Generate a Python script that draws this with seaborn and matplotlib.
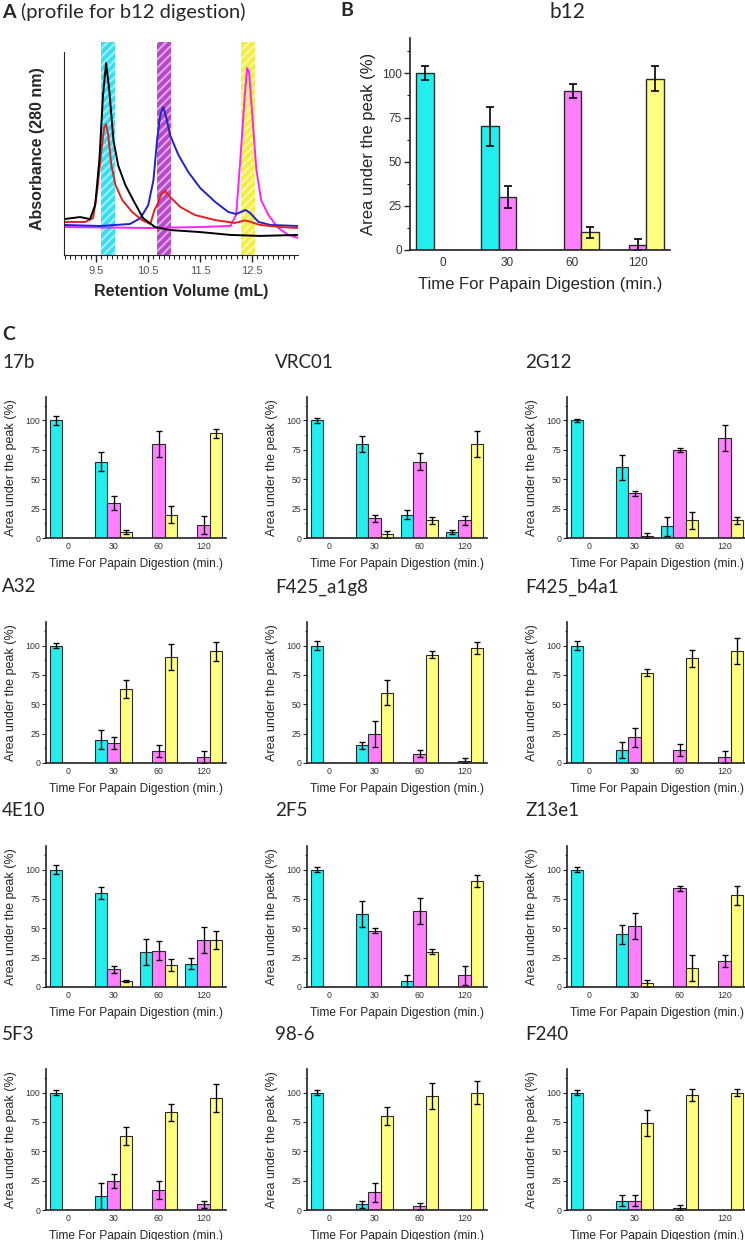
import pandas as pd
import matplotlib
matplotlib.use("Agg")
from matplotlib import pyplot as plt
from matplotlib.ticker import MultipleLocator
import seaborn as sns

# ---- panel A: elution profiles (retention volume mL, absorbance a.u.) ----
black_vol = [8.88, 9.19, 9.38, 9.48, 9.56, 9.63, 9.69, 9.75, 9.83, 9.92, 10.06, 10.21, 10.40, 10.63, 10.92, 11.5, 12.08, 12.65, 13.38]
black_abs = [0.177, 0.187, 0.177, 0.246, 0.468, 0.788, 0.946, 0.813, 0.567, 0.443, 0.345, 0.271, 0.182, 0.138, 0.123, 0.113, 0.099, 0.094, 0.099]

red_vol = [8.88, 9.29, 9.44, 9.52, 9.60, 9.65, 9.69, 9.73, 9.79, 9.87, 10.0, 10.19, 10.38, 10.54, 10.62, 10.67, 10.75, 10.83, 10.92, 11.12, 11.40, 11.79, 12.17, 12.35, 12.42, 12.65, 13.04, 13.38]
red_abs = [0.163, 0.163, 0.182, 0.320, 0.517, 0.626, 0.645, 0.591, 0.443, 0.345, 0.271, 0.212, 0.172, 0.153, 0.222, 0.246, 0.300, 0.315, 0.286, 0.236, 0.197, 0.172, 0.158, 0.170, 0.167, 0.148, 0.138, 0.133]

blue_vol = [8.88, 9.58, 10.15, 10.35, 10.5, 10.6, 10.67, 10.73, 10.79, 10.85, 10.92, 11.08, 11.27, 11.5, 11.79, 12.04, 12.19, 12.37, 12.46, 12.62, 12.85, 13.38]
blue_abs = [0.148, 0.143, 0.153, 0.182, 0.246, 0.369, 0.567, 0.690, 0.729, 0.675, 0.591, 0.493, 0.409, 0.330, 0.261, 0.212, 0.202, 0.222, 0.207, 0.163, 0.148, 0.143]

magenta_vol = [8.88, 10.54, 11.5, 12.08, 12.19, 12.27, 12.35, 12.40, 12.44, 12.5, 12.58, 12.67, 12.81, 13.0, 13.19, 13.38]
magenta_abs = [0.138, 0.133, 0.138, 0.143, 0.197, 0.468, 0.764, 0.921, 0.901, 0.690, 0.419, 0.271, 0.197, 0.133, 0.099, 0.084]

band_lo = [9.60, 10.67, 12.29]
band_hi = [9.87, 10.94, 12.56]
band_colors = ['#38DDF0', '#B848C8', '#F2EE48']

# ---- panels B and C: area under the peak (%) ----
times = ['0', '30', '60', '120']
peaks = ['peak 1', 'peak 2', 'peak 3']
bar_colors = ['#22EEEE', '#FF80FF', '#FFFF80']

# rows: peak 1 (cyan), peak 2 (magenta), peak 3 (yellow); columns: times
b12 = [[100, 70, 0, 0], [0, 30, 90, 3], [0, 0, 10, 97]]
b12_err = [[4, 11, 0, 0], [0, 6, 4, 3], [0, 0, 3, 7]]

ab_17b = [[100, 65, 0, 0], [0, 30, 80, 11], [0, 5, 20, 89]]
ab_17b_err = [[4, 8, 0, 0], [0, 6, 11, 8], [0, 2, 7, 4]]
vrc01 = [[100, 80, 20, 5], [0, 17, 65, 15], [0, 3, 15, 80]]
vrc01_err = [[2, 7, 4, 2], [0, 3, 7, 4], [0, 3, 3, 11]]
ab_2g12 = [[100, 60, 10, 0], [0, 38, 75, 85], [0, 2, 15, 15]]
ab_2g12_err = [[1, 11, 8, 0], [0, 2, 2, 11], [0, 2, 7, 3]]

a32 = [[100, 20, 0, 0], [0, 17, 10, 5], [0, 63, 90, 95]]
a32_err = [[2, 8, 0, 0], [0, 5, 5, 5], [0, 8, 11, 8]]
f425_a1g8 = [[100, 15, 0, 0], [0, 25, 8, 2], [0, 60, 92, 98]]
f425_a1g8_err = [[4, 3, 0, 0], [0, 11, 3, 2], [0, 11, 3, 5]]
f425_b4a1 = [[100, 11, 0, 0], [0, 22, 11, 5], [0, 77, 89, 95]]
f425_b4a1_err = [[4, 7, 0, 0], [0, 8, 5, 5], [0, 3, 7, 11]]

ab_4e10 = [[100, 80, 30, 20], [0, 15, 31, 40], [0, 5, 19, 40]]
ab_4e10_err = [[4, 5, 11, 5], [0, 3, 8, 11], [0, 1, 5, 8]]
ab_2f5 = [[100, 62, 5, 0], [0, 48, 65, 10], [0, 0, 30, 90]]
ab_2f5_err = [[2, 11, 5, 0], [0, 2, 11, 8], [0, 0, 2, 5]]
z13e1 = [[100, 45, 0, 0], [0, 52, 84, 22], [0, 3, 16, 78]]
z13e1_err = [[2, 8, 0, 0], [0, 11, 2, 5], [0, 3, 11, 8]]

ab_5f3 = [[100, 12, 0, 0], [0, 25, 17, 5], [0, 63, 83, 95]]
ab_5f3_err = [[2, 11, 0, 0], [0, 6, 8, 3], [0, 8, 7, 12]]
ab_98_6 = [[100, 5, 0, 0], [0, 15, 3, 0], [0, 80, 97, 100]]
ab_98_6_err = [[2, 3, 0, 0], [0, 8, 3, 0], [0, 8, 11, 10]]
f240 = [[100, 8, 0, 0], [0, 8, 2, 0], [0, 74, 98, 100]]
f240_err = [[2, 5, 0, 0], [0, 5, 2, 0], [0, 11, 5, 3]]

panels_c = [('17b', ab_17b, ab_17b_err), ('VRC01', vrc01, vrc01_err), ('2G12', ab_2g12, ab_2g12_err),
            ('A32', a32, a32_err), ('F425_a1g8', f425_a1g8, f425_a1g8_err), ('F425_b4a1', f425_b4a1, f425_b4a1_err),
            ('4E10', ab_4e10, ab_4e10_err), ('2F5', ab_2f5, ab_2f5_err), ('Z13e1', z13e1, z13e1_err),
            ('5F3', ab_5f3, ab_5f3_err), ('98-6', ab_98_6, ab_98_6_err), ('F240', f240, f240_err)]

sns.set_style('ticks')
plt.rcParams['font.family'] = ['Liberation Sans', 'DejaVu Sans']
plt.rcParams['hatch.linewidth'] = 1.4
TITLE_FONT = ['Lato', 'DejaVu Sans']

W, H = 745, 1240
fig = plt.figure(figsize=(W / 100, H / 100), dpi=100)


def px_axes(left, top, right, bottom):
    return fig.add_axes([left / W, 1 - bottom / H, (right - left) / W, (bottom - top) / H])


def bar_panel(ax, means, errs, lw, cap):
    rows = []
    for p, m_row in zip(peaks, means):
        for t, m in zip(times, m_row):
            rows.append({'time': t, 'peak': p, 'area': m})
    df = pd.DataFrame(rows)
    sns.barplot(data=df, x='time', y='area', hue='peak', order=times, hue_order=peaks,
                palette=bar_colors, saturation=1, width=0.82, errorbar=None,
                edgecolor='#2a2a2a', linewidth=lw, legend=False, ax=ax)
    for cont, e_row in zip(ax.containers, errs):
        for bar, e in zip(cont, e_row):
            if e > 0:
                ax.errorbar(bar.get_x() + bar.get_width() / 2, bar.get_height(), yerr=e,
                            color='black', capsize=cap, elinewidth=lw * 1.2, capthick=lw * 1.2)
    ax.set_xlim(-0.5, 3.5)
    ax.set_ylim(0, 120)
    ax.set_yticks([0, 25, 50, 75, 100])
    ax.yaxis.set_minor_locator(MultipleLocator(12.5))
    sns.despine(ax=ax)
    for s in ['left', 'bottom']:
        ax.spines[s].set_color('#222')
        ax.spines[s].set_linewidth(1.2)


# ---- panel A ----
axA = px_axes(64, 42, 298, 255)
for lo, hi, c in zip(band_lo, band_hi, band_colors):
    axA.axvspan(lo, hi, facecolor=c, edgecolor=(1, 1, 1, 0.55), hatch='////', lw=0, zorder=0)
sns.lineplot(x=magenta_vol, y=magenta_abs, color='#FF22FF', lw=1.4, ax=axA)
sns.lineplot(x=blue_vol, y=blue_abs, color='#2222CC', lw=1.4, ax=axA)
sns.lineplot(x=red_vol, y=red_abs, color='#E02222', lw=1.4, ax=axA)
sns.lineplot(x=black_vol, y=black_abs, color='black', lw=1.4, ax=axA)
axA.set_xlim(8.88, 13.38)
axA.set_ylim(0, 1.05)
axA.set_xticks([9.5, 10.5, 11.5, 12.5])
axA.xaxis.set_minor_locator(MultipleLocator(0.1))
axA.set_yticks([])
axA.tick_params(axis='x', which='major', length=5, width=1, colors='#222', labelcolor='#555', labelsize=8, pad=3)
axA.tick_params(axis='x', which='minor', length=3, width=0.8, colors='#222')
sns.despine(ax=axA)
axA.spines['left'].set_bounds(0, 1.0)
axA.set_xlabel('Retention Volume (mL)', fontsize=11.5, fontweight='bold', labelpad=6)
axA.set_ylabel('Absorbance (280 nm)', fontsize=11.5, fontweight='bold', labelpad=14)
fig.text(2 / W, 1 - 12 / H, 'A', fontsize=14, fontweight='bold', family=TITLE_FONT, va='center')
fig.text(21 / W, 1 - 12 / H, '(profile for b12 digestion)', fontsize=14.5, family=TITLE_FONT, va='center')

# ---- panel B ----
axB = px_axes(410, 38, 670, 250)
bar_panel(axB, b12, b12_err, lw=1.0, cap=3)
axB.tick_params(axis='y', which='major', length=4, width=1, labelsize=8.5, labelcolor='#333', pad=2)
axB.tick_params(axis='y', which='minor', length=2.5, width=0.8)
axB.tick_params(axis='x', length=0, labelsize=8.5, labelcolor='#333', pad=5)
axB.set_xlabel('Time For Papain Digestion (min.)', fontsize=12, labelpad=6)
axB.set_ylabel('Area under the peak (%)', fontsize=12, labelpad=4)
fig.text(340 / W, 1 - 11 / H, 'B', fontsize=14, fontweight='bold', family=TITLE_FONT, va='center')
fig.text(567 / W, 1 - 12 / H, 'b12', fontsize=15, family=TITLE_FONT, va='center', ha='center')

# ---- panel C ----
fig.text(2 / W, 1 - 335 / H, 'C', fontsize=14, fontweight='bold', family=TITLE_FONT, va='center')
col_left = [46, 307, 567]
title_x = [2, 275, 525]
row_bottom = [538, 763, 987, 1210]
for i, (name, means, errs) in enumerate(panels_c):
    r, c = divmod(i, 3)
    ax = px_axes(col_left[c], row_bottom[r] - 141, col_left[c] + 180, row_bottom[r])
    bar_panel(ax, means, errs, lw=0.8, cap=2)
    ax.tick_params(axis='y', which='major', length=3, width=0.8, labelsize=6.3, labelcolor='#333', pad=1)
    ax.tick_params(axis='y', which='minor', length=1.8, width=0.6)
    ax.tick_params(axis='x', length=0, labelsize=6.3, labelcolor='#333', pad=3)
    ax.set_xlabel('Time For Papain Digestion (min.)', fontsize=8.6, labelpad=5)
    ax.set_ylabel('Area under the peak (%)', fontsize=9, labelpad=6)
    fig.text(title_x[c] / W, 1 - (row_bottom[r] - 176) / H, name, fontsize=13.5, family=TITLE_FONT, va='center')

fig.savefig('out.png', dpi=100)
